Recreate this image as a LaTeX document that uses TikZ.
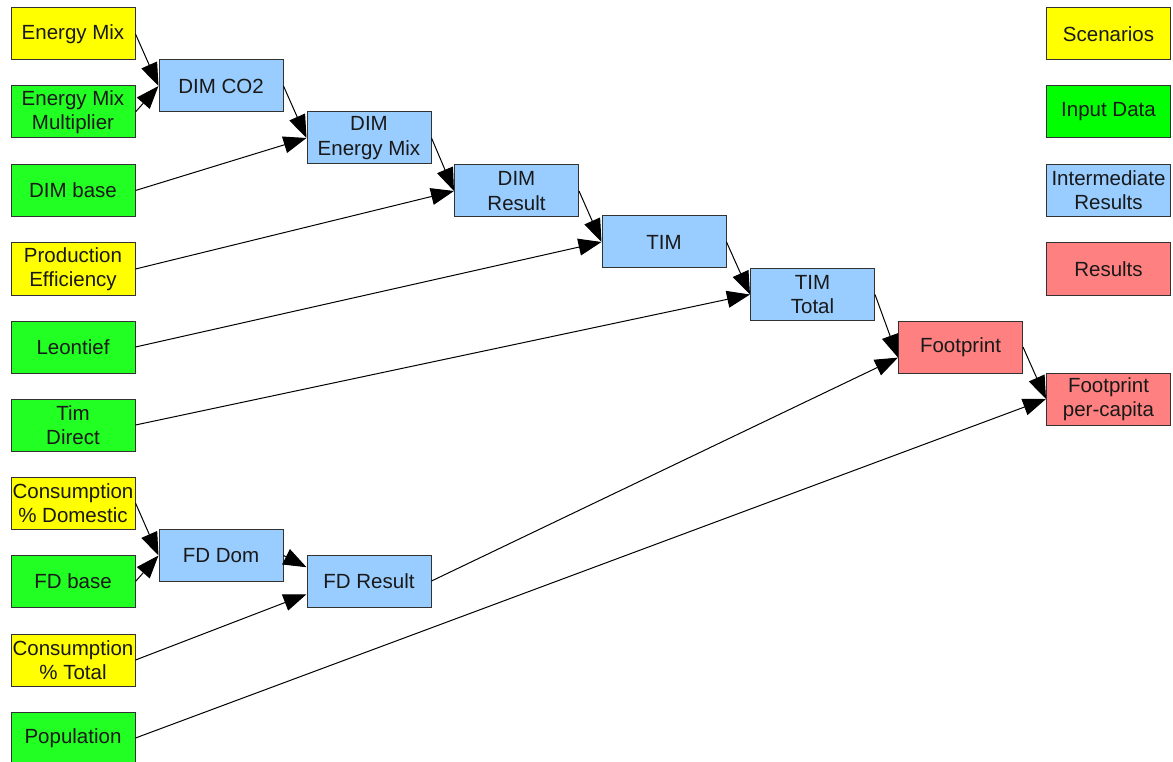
\documentclass[tikz,border=0pt]{standalone}
\usepackage{fontspec}
\setmainfont{Liberation Sans}
\usetikzlibrary{arrows.meta,calc}
\definecolor{scen}{RGB}{255,255,0}
\definecolor{inp}{RGB}{34,255,34}
\definecolor{inplegend}{RGB}{0,255,0}
\definecolor{inter}{RGB}{153,204,255}
\definecolor{res}{RGB}{255,128,128}
\definecolor{bord}{RGB}{50,50,50}
\definecolor{txt}{RGB}{25,25,25}
\tikzset{
  box/.style={draw=bord, line width=1pt, minimum width=124pt, minimum height=52pt,
    inner sep=0pt, align=center, text=txt,
    font=\fontsize{20.5}{24.3}\selectfont},
  scenbox/.style={box, fill=scen},
  inpbox/.style={box, fill=inp},
  interbox/.style={box, fill=inter},
  resbox/.style={box, fill=res},
  conn/.style={line width=1pt, -{Triangle[length=23pt,width=17pt]}}
}
\begin{document}
\begin{tikzpicture}[x=1pt,y=-1pt]
\useasboundingbox (0,0) rectangle (1173,762);
% left column
\node[scenbox] (em) at (73,34) {Energy Mix};
\node[inpbox] (emm) at (73,112) {Energy Mix\\Multiplier};
\node[inpbox] (dimbase) at (73,190.5) {DIM base};
\node[scenbox] (prodeff) at (73,269) {Production\\Efficiency};
\node[inpbox] (leontief) at (73,347) {Leontief};
\node[inpbox] (timdirect) at (73,425) {Tim\\Direct};
\node[scenbox] (cdom) at (73,503) {Consumption\\\% Domestic};
\node[inpbox] (fdbase) at (73,581.5) {FD base};
\node[scenbox] (ctotal) at (73,660) {Consumption\\\% Total};
\node[inpbox] (population) at (73,738) {Population};
% chain
\node[interbox] (dimco2) at (221,86) {DIM CO2};
\node[interbox] (dimem) at (369,138) {DIM\\Energy Mix};
\node[interbox] (dimres) at (516.5,191) {DIM\\Result};
\node[interbox] (tim) at (664,242) {TIM};
\node[interbox] (timtot) at (812.5,294.5) {TIM\\Total};
\node[resbox] (fp) at (960.5,347) {Footprint};
\node[resbox] (fpc) at (1108.5,399) {Footprint\\per-capita};
\node[interbox] (fddom) at (221,555.5) {FD Dom};
\node[interbox] (fdres) at (369,581) {FD Result};
% legend
\node[scenbox] (lscen) at (1108.5,34) {Scenarios};
\node[box, fill=inplegend] (linp) at (1108.5,112) {Input Data};
\node[interbox] (linter) at (1108.5,190.5) {Intermediate\\Results};
\node[resbox] (lres) at (1108.5,269) {Results};
% target points
\coordinate (fdresA) at ($(fdres.north west)!0.24!(fdres.south west)$);
\coordinate (fdresB) at ($(fdres.north west)!0.75!(fdres.south west)$);
\coordinate (fpA) at ($(fp.north west)!0.70!(fp.south west)$);
% connectors
\draw[conn] (em.east) -- (dimco2.west);
\draw[conn] (emm.east) -- (dimco2.west);
\draw[conn] (dimco2.east) -- (dimem.west);
\draw[conn] (dimbase.east) -- (dimem.west);
\draw[conn] (dimem.east) -- (dimres.west);
\draw[conn] (prodeff.east) -- (dimres.west);
\draw[conn] (dimres.east) -- (tim.west);
\draw[conn] (leontief.east) -- (tim.west);
\draw[conn] (tim.east) -- (timtot.west);
\draw[conn] (timdirect.east) -- (timtot.west);
\draw[conn] (timtot.east) -- (fpA);
\draw[conn] (fdres.east) -- (fpA);
\draw[conn] (fp.east) -- (fpc.west);
\draw[conn] (population.east) -- (fpc.west);
\draw[conn] (cdom.east) -- (fddom.west);
\draw[conn] (fdbase.east) -- (fddom.west);
\draw[conn] (fddom.east) -- (fdresA);
\draw[conn] (ctotal.east) -- (fdresB);
\end{tikzpicture}
\end{document}
